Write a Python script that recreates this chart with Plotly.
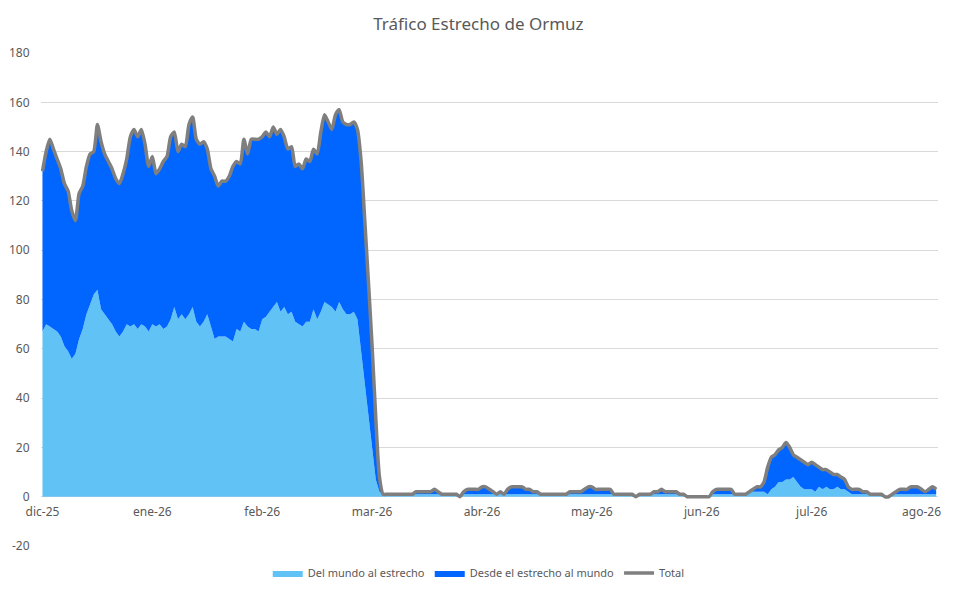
import plotly.graph_objects as go

# daily readings, Dec-25 .. early Aug-26 (245 points, category index)
del_mundo = [
    67, 70, 69, 68, 67, 65, 61, 59, 56, 58,
    64, 68, 74, 78, 82, 84, 76, 74, 72, 70,
    67, 65, 67, 70, 69, 70, 68, 70, 69, 67,
    70, 69, 70, 68, 69, 72, 77, 72, 74, 72,
    74, 77, 71, 69, 71, 74, 69, 64, 65, 65,
    65, 64, 63, 68, 67, 71, 69, 68, 68, 67,
    72, 73, 75, 77, 79, 75, 77, 74, 75, 71,
    70, 69, 71, 71, 76, 72, 75, 79, 78, 77,
    75, 79, 76, 74, 74, 75, 72, 59, 45, 33,
    19, 7, 2, 1, 1, 1, 1, 1, 1, 1,
    1, 1, 1, 1, 1, 1, 1, 1, 1, 1,
    1, 1, 1, 1, 0, 1, 1, 1, 1, 1,
    1, 1, 1, 1, 1, 1, 1, 1, 1, 1,
    1, 1, 1, 1, 1, 1, 1, 1, 1, 1,
    1, 1, 1, 1, 1, 1, 1, 1, 1, 1,
    1, 1, 1, 1, 1, 1, 1, 1, 1, 1,
    1, 1, 0, 1, 1, 1, 1, 1, 1, 1,
    1, 1, 1, 1, 1, 1, 0, 0, 0, 0,
    0, 0, 0, 1, 1, 1, 1, 1, 1, 1,
    1, 1, 1, 2, 2, 2, 2, 2, 1, 3,
    4, 6, 6, 7, 7, 8, 6, 4, 3, 3,
    3, 2, 4, 3, 4, 3, 3, 4, 3, 3,
    2, 1, 1, 1, 1, 1, 1, 1, 1, 1,
    0, 0, 1, 1, 1, 1, 1, 1, 1, 1,
    1, 1, 1, 1, 1,
]
desde_estrecho = [
    65, 70, 76, 73, 70, 68, 66, 65, 60, 54,
    59, 58, 60, 61, 58, 67, 68, 65, 64, 63,
    62, 62, 64, 67, 77, 79, 78, 79, 74, 67,
    68, 62, 63, 68, 69, 74, 71, 68, 69, 70,
    77, 77, 74, 74, 73, 67, 64, 66, 61, 63,
    63, 66, 71, 68, 68, 74, 70, 77, 77, 78,
    74, 75, 71, 73, 68, 74, 69, 67, 67, 63,
    65, 64, 66, 65, 65, 67, 73, 76, 74, 72,
    80, 78, 76, 77, 77, 77, 77, 77, 67, 54,
    42, 25, 6, 0, 0, 0, 0, 0, 0, 0,
    0, 0, 1, 1, 1, 1, 1, 2, 1, 0,
    0, 0, 0, 0, 0, 1, 2, 2, 2, 2,
    3, 3, 2, 1, 0, 1, 0, 2, 3, 3,
    3, 3, 2, 2, 1, 1, 0, 0, 0, 0,
    0, 0, 0, 0, 1, 1, 1, 1, 2, 3,
    3, 2, 2, 2, 2, 2, 0, 0, 0, 0,
    0, 0, 0, 0, 0, 0, 0, 1, 1, 2,
    1, 1, 1, 1, 0, 0, 0, 0, 0, 0,
    0, 0, 0, 1, 2, 2, 2, 2, 2, 0,
    0, 0, 0, 0, 1, 2, 2, 4, 11, 13,
    13, 13, 14, 15, 13, 9, 10, 11, 11, 10,
    11, 11, 8, 8, 7, 7, 6, 5, 5, 4,
    2, 2, 2, 2, 1, 1, 0, 0, 0, 0,
    0, 0, 0, 1, 2, 2, 2, 3, 3, 3,
    2, 1, 2, 3, 2,
]
total = [
    132, 140, 145, 141, 137, 133, 127, 124, 116, 112,
    123, 126, 134, 139, 140, 151, 144, 139, 136, 133,
    129, 127, 131, 137, 146, 149, 146, 149, 143, 134,
    138, 131, 133, 136, 138, 146, 148, 140, 143, 142,
    151, 154, 145, 143, 144, 141, 133, 130, 126, 128,
    128, 130, 134, 136, 135, 145, 139, 145, 145, 145,
    146, 148, 146, 150, 147, 149, 146, 141, 142, 134,
    135, 133, 137, 136, 141, 139, 148, 155, 152, 149,
    155, 157, 152, 151, 151, 152, 149, 136, 112, 87,
    61, 32, 8, 1, 1, 1, 1, 1, 1, 1,
    1, 1, 2, 2, 2, 2, 2, 3, 2, 1,
    1, 1, 1, 1, 0, 2, 3, 3, 3, 3,
    4, 4, 3, 2, 1, 2, 1, 3, 4, 4,
    4, 4, 3, 3, 2, 2, 1, 1, 1, 1,
    1, 1, 1, 1, 2, 2, 2, 2, 3, 4,
    4, 3, 3, 3, 3, 3, 1, 1, 1, 1,
    1, 1, 0, 1, 1, 1, 1, 2, 2, 3,
    2, 2, 2, 2, 1, 1, 0, 0, 0, 0,
    0, 0, 0, 2, 3, 3, 3, 3, 3, 1,
    1, 1, 1, 2, 3, 4, 4, 6, 12, 16,
    17, 19, 20, 22, 20, 17, 16, 15, 14, 13,
    14, 13, 12, 11, 11, 10, 9, 9, 8, 7,
    4, 3, 3, 3, 2, 2, 1, 1, 1, 1,
    0, 0, 1, 2, 3, 3, 3, 4, 4, 4,
    3, 2, 3, 4, 3,
]
month_labels = ["dic-25", "ene-26", "feb-26", "mar-26", "abr-26",
                "may-26", "jun-26", "jul-26", "ago-26"]
LABEL_EVERY = 30   # one axis label every 30 points
y_ticks = [-20, 0, 20, 40, 60, 80, 100, 120, 140, 160, 180]

idx = list(range(len(total)))
tickvals = [i * LABEL_EVERY for i in range(len(month_labels))]

TXT = "#595959"
FONT = "Noto Sans, Lato, sans-serif"

fig = go.Figure()
fig.add_trace(go.Scatter(x=idx, y=del_mundo, name="Del mundo al estrecho",
                         stackgroup="a", mode="lines", line=dict(width=0, color="#61C3F5"),
                         fillcolor="#61C3F5"))
fig.add_trace(go.Scatter(x=idx, y=desde_estrecho, name="Desde el estrecho al mundo",
                         stackgroup="a", mode="lines", line=dict(width=0, color="#0066FF"),
                         fillcolor="#0066FF"))
fig.add_trace(go.Scatter(x=idx, y=total, name="Total", mode="lines",
                         line=dict(width=3.5, color="#7F7F7F", shape="spline", smoothing=0.6)))

fig.update_layout(
    width=953, height=595,
    margin=dict(l=41, r=15, t=53, b=49, autoexpand=False),
    plot_bgcolor="white", paper_bgcolor="white",
    font=dict(family=FONT, color=TXT, size=12),
    title=dict(text="Tráfico Estrecho de Ormuz", x=0.502, xref="container", xanchor="center",
               y=0.96, yref="container", yanchor="middle",
               font=dict(size=17, color=TXT, family=FONT)),
    showlegend=True,
    legend=dict(orientation="h", x=0.488, xanchor="center", y=-0.055, yanchor="middle",
                font=dict(size=11, color=TXT), traceorder="normal",
                itemwidth=30, bgcolor="rgba(0,0,0,0)"),
    xaxis=dict(range=[-0.4, 244.5], tickvals=tickvals, ticktext=month_labels,
               showgrid=False, zeroline=False, showline=False, automargin=False,
               anchor="free", position=0.1,
               ticks="outside", ticklen=4, tickcolor="rgba(0,0,0,0)",
               tickfont=dict(size=12, color=TXT)),
    yaxis=dict(range=[-20, 180], tickvals=y_ticks, ticktext=[str(v) for v in y_ticks],
               showgrid=True, gridcolor="#D9D9D9", gridwidth=1,
               zeroline=False, showline=False, automargin=False,
               ticks="outside", ticklen=8, tickcolor="rgba(0,0,0,0)",
               tickfont=dict(size=12, color=TXT)),
)

# the page's default 8px body margin would push the fixed-size figure off the window
fig.write_html("out.html", config={"displayModeBar": False},
               post_script="document.body.style.margin='0';")
